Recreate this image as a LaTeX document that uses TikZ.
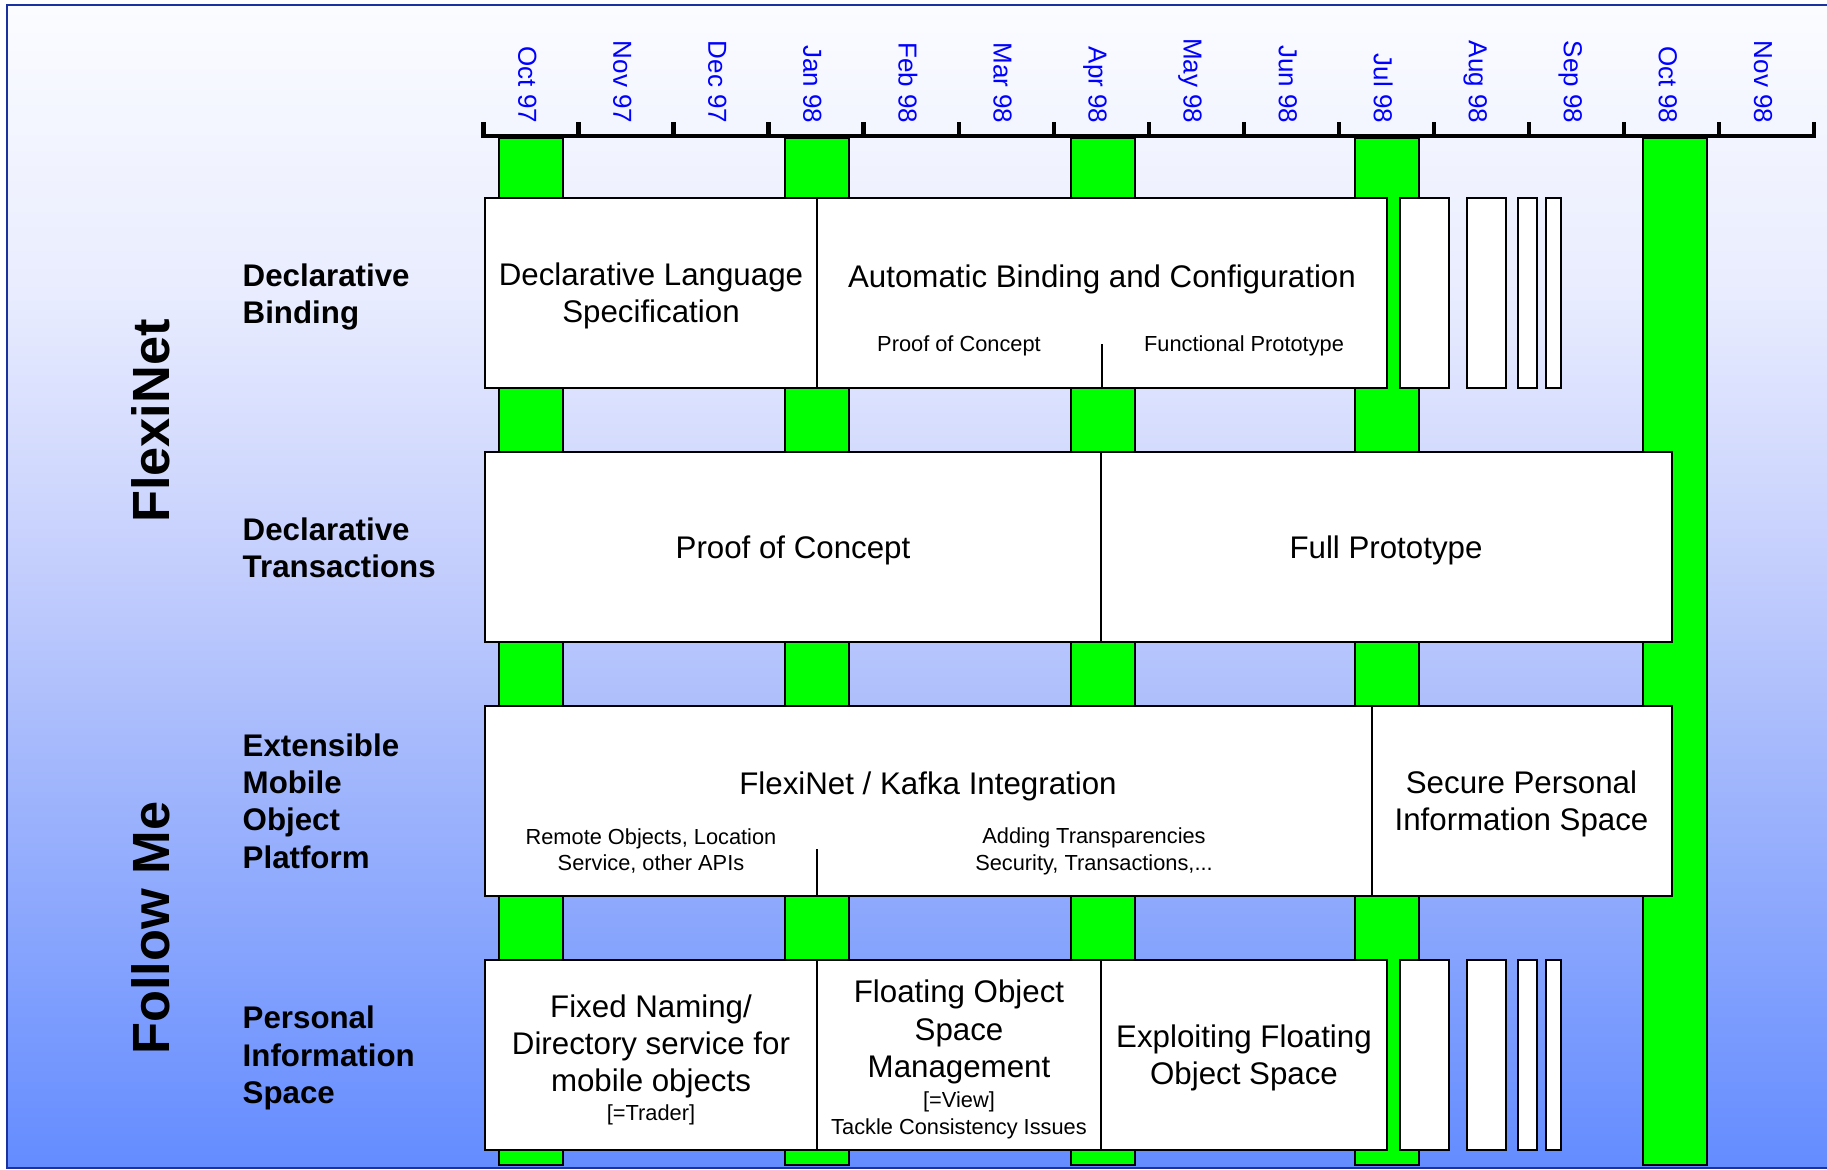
\documentclass[tikz,border=0pt]{standalone}
\usepackage{fontspec}
\setmainfont{Liberation Sans}
\usetikzlibrary{fit}

% colours of the slide
\definecolor{framecol}{RGB}{25,50,160}
\definecolor{bgtop}{RGB}{251,252,255}
\definecolor{bglight}{RGB}{232,236,254}
\definecolor{bghigh}{RGB}{198,208,253}
\definecolor{bgmid}{RGB}{165,185,252}
\definecolor{bgbot}{RGB}{100,140,255}
\definecolor{barcol}{RGB}{0,255,0}

% background: white at the top, blue at the bottom
\pgfdeclareverticalshading{bgshade}{100bp}{color(0bp)=(bgbot); color(25bp)=(bgbot);
  color(43bp)=(bgmid); color(51.5bp)=(bghigh); color(62.5bp)=(bglight);
  color(75bp)=(bgtop); color(100bp)=(bgtop)}

\newcommand{\boxfont}{\fontsize{8.9}{10.6}\selectfont}
\newcommand{\notefont}{\fontsize{6.2}{7.6}\selectfont}
\newcommand{\monthfont}{\fontsize{7.4}{8}\selectfont}

\tikzset{
  box/.style={draw=black, fill=white, line width=0.2mm, inner sep=0pt},
  slot/.style={draw=black, fill=white, line width=0.2mm},
  boxtitle/.style={align=center, font=\boxfont, inner sep=0pt},
  note/.style={align=center, font=\notefont, inner sep=0pt},
  divider/.style={draw=black, line width=0.12mm},
  milestone/.style={draw=black, fill=barcol, line width=0.15mm},
  timeaxis/.style={draw=black, line width=0.45mm},
  month/.style={text=blue, font=\monthfont, rotate=-90, anchor=east, inner sep=0pt, text height=0.72em, text depth=0pt},
  rowhead/.style={align=left, anchor=west, inner sep=0pt, font=\bfseries\boxfont},
  grouplabel/.style={rotate=90, inner sep=0pt, font=\bfseries\fontsize{14.9}{16}\selectfont}
}

\begin{document}
\begin{tikzpicture}[x=0.1mm, y=-0.1mm]
    % area of the slide, in pixels of the original
    \useasboundingbox (0,0) rectangle (1827,1170);
    \fill[white] (0,0) rectangle (1827,1170);
    \shade[shading=bgshade] (7,5) rectangle (1827,1168);
    \draw[framecol, line width=0.25mm] (1827,5) -- (7,5) -- (7,1168) -- (1827,1168);

    % green milestone bars, behind the boxes
    \foreach \gx in {499,785,1071,1355,1643}
        \filldraw[milestone] (\gx,138) rectangle ++(64,1027);

    % time axis with one tick per month
    \draw[timeaxis] (483.5,122) -- (483.5,136) -- (1814,136) -- (1814,122);
    \foreach \i in {1,...,13}
        \draw[timeaxis] (483.5+95.05*\i,122) -- ++(0,14);
    \foreach \m [count=\i from 0] in {Oct 97,Nov 97,Dec 97,Jan 98,Feb 98,Mar 98,Apr 98,
                                      May 98,Jun 98,Jul 98,Aug 98,Sep 98,Oct 98,Nov 98}
        \node[month] (m\i) at (531+95.05*\i,124) {\m};

    % project names and work packages on the left
    \node[grouplabel] (flexinet) at (151,421) {FlexiNet};
    \node[grouplabel] (followme) at (151,928) {Follow Me};
    \node[rowhead] (dbind)  at (242,297)  {Declarative\\Binding};
    \node[rowhead] (dtrans) at (242,548)  {Declarative\\Transactions};
    \node[rowhead] (emop)   at (242,801)  {Extensible\\Mobile\\Object\\Platform};
    \node[rowhead] (pis)    at (242,1058) {Personal\\Information\\Space};

    % row 1: Declarative Binding
    \node[box, fit={(485,198) (817,388)}] (dls) {};
    \node[boxtitle] (dlstext) at (651,296) {Declarative Language\\Specification};
    \node[box, fit={(817,198) (1387,388)}] (abc) {};
    \node[boxtitle] (abctitle) at (1102,279) {Automatic Binding and Configuration};
    \node[note] (abcpoc) at (959,346) {Proof of Concept};
    \node[note] (abcfp) at (1244,346) {Functional Prototype};
    \draw[divider] (abc.south) -- ++(0,-45);
    \foreach \sx/\sw in {1400/49,1467/39,1518/19,1546/15}
        \draw[slot] (\sx,198) rectangle ++(\sw,190);

    % row 2: Declarative Transactions
    \node[box, fit={(485,452) (1101,642)}] (dtpoc) {};
    \node[boxtitle] (dtpoctext) at (793,550) {Proof of Concept};
    \node[box, fit={(1101,452) (1671.5,642)}] (dtfull) {};
    \node[boxtitle] (dtfulltext) at (1386,550) {Full Prototype};

    % row 3: Extensible Mobile Object Platform
    \node[box, fit={(485,706) (1371.5,896)}] (fki) {};
    \node[boxtitle] (fkititle) at (928,786) {FlexiNet / Kafka Integration};
    \node[note] (fkiremote) at (651,851) {Remote Objects, Location\\Service, other APIs};
    \node[note] (fkitrans) at (1094,851) {Adding Transparencies\\Security, Transactions,...};
    \coordinate (fkisplit) at (817,896);
    \draw[divider] (fkisplit) -- ++(0,-47);
    \node[box, fit={(1371.5,706) (1671.5,896)}] (spis) {};
    \node[boxtitle] (spistext) at (1521.5,804) {Secure Personal\\Information Space};

    % row 4: Personal Information Space
    \node[box, fit={(485,960) (817,1150)}] (fixed) {};
    \node[boxtitle] (fixedtitle) at (651,1046.5) {Fixed Naming/\\Directory service for\\mobile objects};
    \node[note] (trader) at (651,1115) {[=Trader]};
    \node[box, fit={(817,960) (1101,1150)}] (fosm) {};
    \node[boxtitle] (fosmtitle) at (959,1032) {Floating Object\\Space\\Management};
    \node[note] (fosmview) at (959,1115) {[=View]\\Tackle Consistency Issues};
    \node[box, fit={(1101,960) (1387,1150)}] (exploit) {};
    \node[boxtitle] (exploittext) at (1244,1058) {Exploiting Floating\\Object Space};
    \foreach \sx/\sw in {1400/49,1467/39,1518/19,1546/15}
        \draw[slot] (\sx,960) rectangle ++(\sw,190);
\end{tikzpicture}
\end{document}
